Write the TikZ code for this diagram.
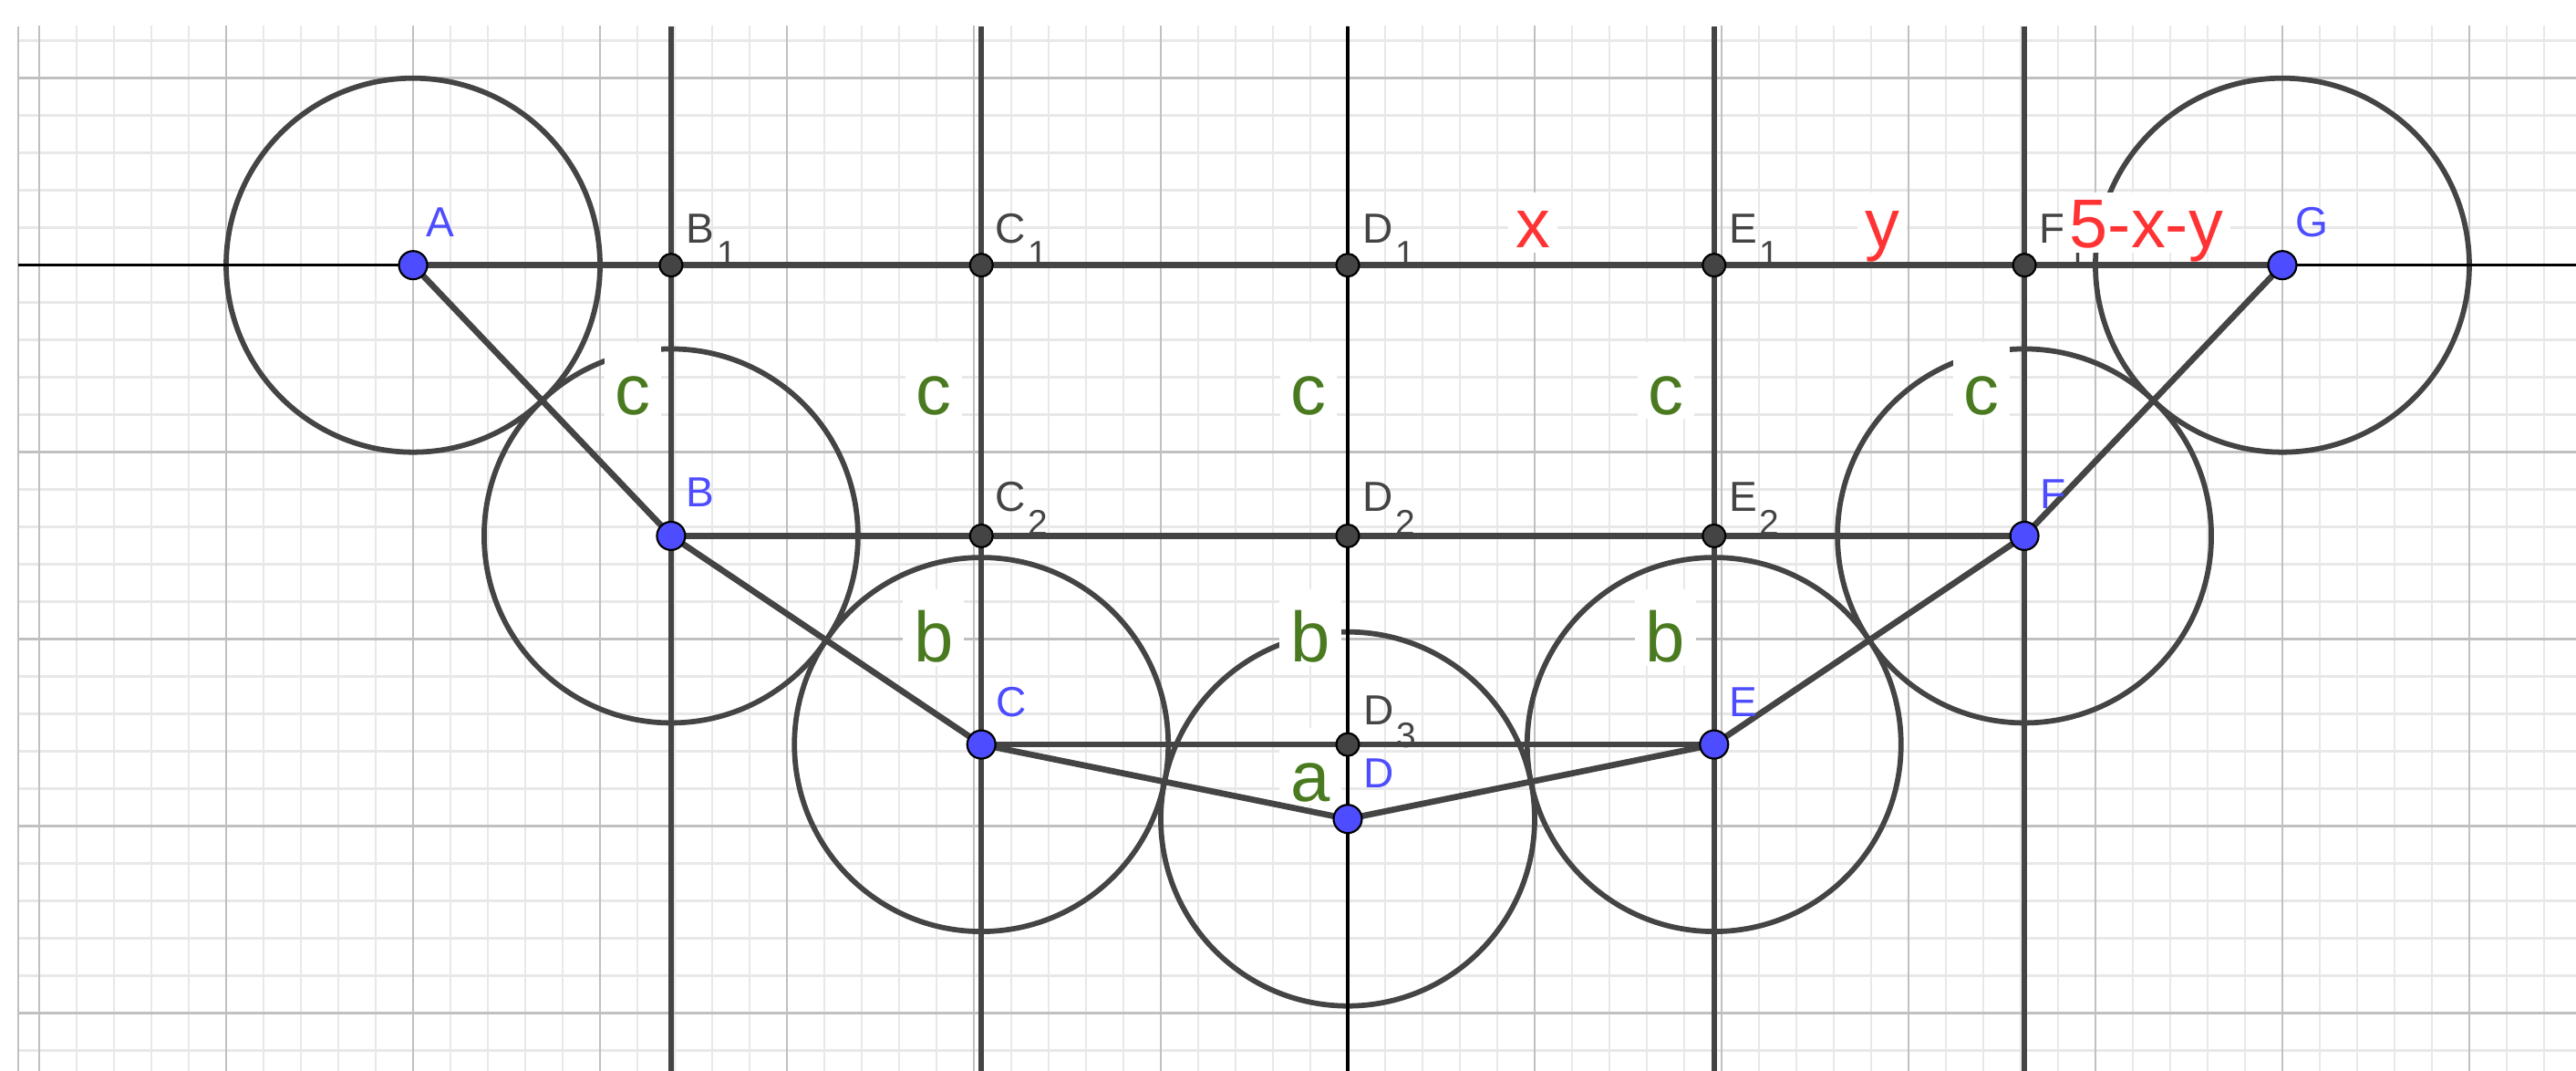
\documentclass[tikz,border=0pt]{standalone}
\usepackage{fontspec}
\setmainfont{Liberation Sans}
\usetikzlibrary{calc}
\definecolor{ggray}{RGB}{68,68,68}
\definecolor{gblue}{RGB}{77,77,255}
\definecolor{ggreen}{RGB}{74,122,32}
\definecolor{gred}{RGB}{255,51,51}
\definecolor{gmajor}{RGB}{192,192,192}
\definecolor{gminor}{RGB}{232,232,232}
\newcommand{\sbs}[1]{\kern0.4pt\raisebox{-3.5pt}{\fontsize{5.4}{6}\selectfont #1}}
\begin{document}
\begin{tikzpicture}[
  circ/.style={draw=ggray, line width=0.8pt},
  vline/.style={draw=ggray, line width=0.8pt},
  seg/.style={draw=ggray, line width=0.93pt},
  bpt/.style={circle, fill=gblue, draw=black, line width=0.3pt, minimum size=0.151cm, inner sep=0pt},
  gpt/.style={circle, fill=ggray, draw=black, line width=0.3pt, minimum size=0.122cm, inner sep=0pt},
  plab/.style={anchor=base west, inner sep=0pt, font=\fontsize{6.4}{7}\selectfont},
  glab/.style={anchor=base, fill=white, text=ggreen, inner xsep=0.058cm, inner ysep=0pt, text height=0.39cm, text depth=0.02cm, font=\fontsize{10.8}{12}\selectfont},
  rlab/.style={anchor=base, fill=white, text=gred, inner xsep=0.04cm, inner ysep=0.025cm, text height=0.27cm, text depth=0pt, font=\fontsize{10.5}{12}\selectfont},
]
\useasboundingbox (-7.210,-4.309) rectangle (6.571,1.418);
\fill[white] (-7.210,-4.309) rectangle (6.571,1.418);

% grid
\begin{scope}
\clip (-7.112,-4.309) rectangle (6.571,1.277);
\draw[gminor, line width=0.35pt, step=0.2] (-7.4,-4.6) grid (6.8,1.6);
\draw[gmajor, line width=0.37pt, step=1] (-7.4,-4.6) grid (6.8,1.6);
\end{scope}
\draw[gmajor, line width=0.37pt] (-7.112,-4.309) -- (-7.112,1.277);

% coordinates
\coordinate (gtop) at (0,1.277);
\coordinate (gbot) at (0,-4.309);
\coordinate (gl) at (-7.112,0);
\coordinate (gr) at (6.571,0);
\coordinate (A) at (-5,0);
\coordinate (B1) at (-3.62,0);
\coordinate (C1) at (-1.96,0);
\coordinate (D1) at (0,0);
\coordinate (E1) at (1.96,0);
\coordinate (F1) at (3.62,0);
\coordinate (G) at (5,0);
\coordinate (B) at (-3.62,-1.4476);
\coordinate (C2) at (-1.96,-1.4476);
\coordinate (D2) at (0,-1.4476);
\coordinate (E2) at (1.96,-1.4476);
\coordinate (F) at (3.62,-1.4476);
\coordinate (C) at (-1.96,-2.5631);
\coordinate (D3) at (0,-2.5631);
\coordinate (E) at (1.96,-2.5631);
\coordinate (D) at (0,-2.9611);

% circles
\foreach \p in {A,B,C,D,E,F,G} \draw[circ] (\p) circle[radius=1];

% green labels
\node[glab] (lc1) at (-3.824,-0.801) {c};
\node[glab] (lc2) at (-2.215,-0.801) {c};
\node[glab] (lc3) at (-0.210,-0.801) {c};
\node[glab] (lc4) at (1.702,-0.801) {c};
\node[glab] (lc5) at (3.390,-0.801) {c};
\node[glab] (lb1) at (-2.215,-2.123) {b};
\node[glab] (lb2) at (-0.200,-2.123) {b};
\node[glab] (lb3) at (1.698,-2.123) {b};
\node[glab] (la) at (-0.200,-2.866) {a};

% axis and lines
\draw[black, line width=0.46pt] (gl) -- (gr);
\foreach \p in {B,C,E,F} \draw[vline] (\p |- gtop) -- (\p |- gbot);
\draw[black, line width=0.69pt] (D |- gtop) -- (D |- gbot);
\draw[seg] (A) -- (G);
\draw[seg] (B) -- (F);
\draw[seg] (C) -- (E);
\draw[seg] (A) -- (B) -- (C) -- (D) -- (E) -- (F) -- (G);

% points
\foreach \p in {B1,C1,D1,E1,F1,C2,D2,E2,D3} \node[gpt] (p\p) at (\p) {};
\foreach \p in {A,B,C,D,E,F,G} \node[bpt] (p\p) at (\p) {};

% point labels
\node[plab, text=gblue] (lA) at ($(A)+(0.065,0.15)$) {A};
\node[plab, text=gblue] (lB) at ($(B)+(0.073,0.155)$) {B};
\node[plab, text=gblue] (lC) at ($(C)+(0.073,0.148)$) {C};
\node[plab, text=gblue] (lD) at ($(D)+(0.078,0.165)$) {D};
\node[plab, text=gblue] (lE) at ($(E)+(0.073,0.148)$) {E};
\node[plab, text=gblue] (lF) at ($(F)+(0.080,0.148)$) {F};
\node[plab, text=gblue] (lG) at ($(G)+(0.065,0.15)$) {G};
\node[plab, text=ggray] (lB1) at ($(B1)+(0.075,0.12)$) {B\sbs{1}};
\node[plab, text=ggray] (lC1) at ($(C1)+(0.068,0.12)$) {C\sbs{1}};
\node[plab, text=ggray] (lD1) at ($(D1)+(0.073,0.12)$) {D\sbs{1}};
\node[plab, text=ggray] (lE1) at ($(E1)+(0.073,0.12)$) {E\sbs{1}};
\node[plab, text=ggray] (lF1) at ($(F1)+(0.073,0.12)$) {F\sbs{1}};
\node[plab, text=ggray] (lC2) at ($(C2)+(0.068,0.13)$) {C\sbs{2}};
\node[plab, text=ggray] (lD2) at ($(D2)+(0.073,0.13)$) {D\sbs{2}};
\node[plab, text=ggray] (lE2) at ($(E2)+(0.073,0.13)$) {E\sbs{2}};
\node[plab, text=ggray] (lD3) at ($(D3)+(0.078,0.107)$) {D\sbs{3}};

% red labels
\node[rlab] (lx) at (0.990,0.093) {x};
\node[rlab] (ly) at (2.859,0.093) {y};
\node[rlab] (lz) at (4.273,0.093) {5-x-y};
\end{tikzpicture}
\end{document}
